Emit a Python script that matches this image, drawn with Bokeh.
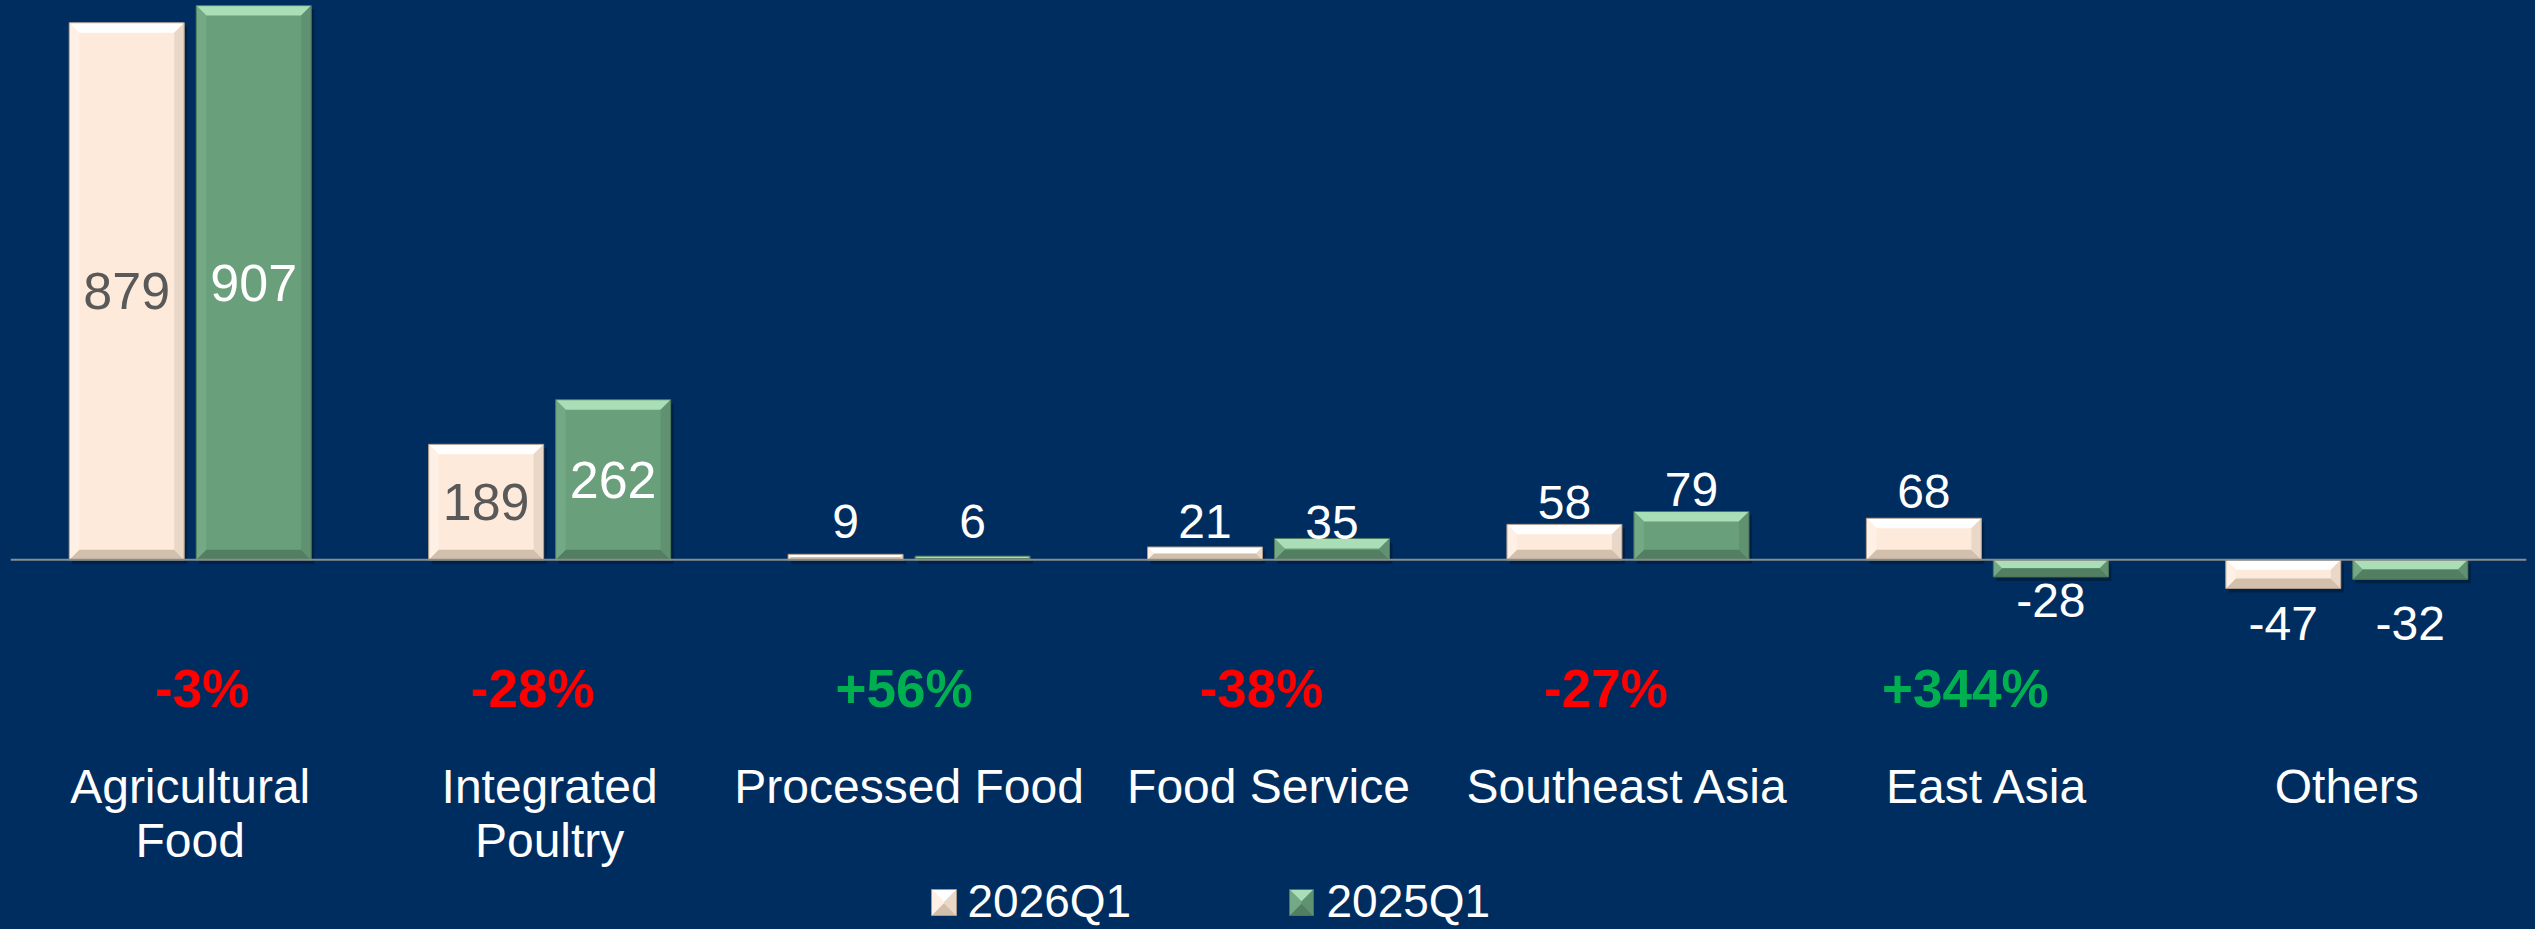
from bokeh.plotting import figure
from bokeh.models import Range1d, Span
from bokeh.core.properties import value
from bokeh.embed import file_html
from bokeh.resources import INLINE
from bokeh.core.templates import get_env

# ---------------- data ----------------
categories = ["Agricultural\nFood", "Integrated\nPoultry", "Processed Food",
              "Food Service", "Southeast Asia", "East Asia", "Others"]
q2026 = [879, 189, 9, 21, 58, 68, -47]
q2025 = [907, 262, 6, 35, 79, -28, -32]
changes = ["-3%", "-28%", "+56%", "-38%", "-27%", "+344%", ""]
series_names = ["2026Q1", "2025Q1"]

# ---------------- layout / style ----------------
BG = "#002D5F"
FONT = "Liberation Sans"
FIG_W, FIG_H = 2535, 929
ML, MR = 10, 9
FRAME_W = FIG_W - ML - MR
N = len(categories)
PX_X = FRAME_W / N            # pixels per category
AXIS_PY = 559.3               # page-y of zero line
S = 0.611                     # pixels per value unit
Y_END = AXIS_PY / S
Y_START = -(FIG_H - AXIS_PY) / S


def fy(page_y):
    return (AXIS_PY - page_y) / S


def fx(page_x):
    return (page_x - ML) / PX_X


BAR_W = 115 / PX_X
BAR_OFF = 63.5 / PX_X

STYLES = {
    "2026Q1": dict(base="#FDEADA", top="#FFFFFF", left="#FEF0E4", right="#E9D7C7",
                   bottom="#D2BFAC", outline="#A8998A", inside="#595959"),
    "2025Q1": dict(base="#6A9F7C", top="#A9DEB6", left="#74A986", right="#609272",
                   bottom="#527F62", outline="#4C7559", inside="#FFFFFF"),
}

# label pixel nudges (layout tweaks, +down)
label_nudge = {(3, 1): 6, (5, 0): -5, (6, 0): 11, (6, 1): 20}
pct_dx = [12, -17, -5, -7, -22, -22, 0]

p = figure(width=FIG_W, height=FIG_H, output_backend="svg", toolbar_location=None,
           x_range=Range1d(0, N), y_range=Range1d(Y_START, Y_END),
           x_axis_location=None, y_axis_location=None,
           min_border_left=ML, min_border_right=MR, min_border_top=0, min_border_bottom=0)
p.background_fill_color = BG
p.border_fill_color = BG
p.outline_line_color = None
p.xgrid.visible = False
p.ygrid.visible = False


def bevel_rect(L, R, T, B, st, b_px=10, shadow=True):
    """Draw a bevelled box between data coords L..R (x) and B..T (y)."""
    w_px = (R - L) * PX_X
    h_px = (T - B) * S
    b = max(min(b_px, h_px / 2, w_px / 2), 0)
    bx, by = b / PX_X, b / S
    if shadow:
        sx, sy = 3 / PX_X, 4 / S
        p.quad(left=[L + sx], right=[R + sx], top=[T - sy], bottom=[B - sy],
               fill_color="#000814", fill_alpha=0.35, line_color=None)
    p.quad(left=[L], right=[R], top=[T], bottom=[B], fill_color=st["base"],
           line_color=None)
    xs = [[L, R, R - bx, L + bx], [L, R, R - bx, L + bx],
          [L, L + bx, L + bx, L], [R, R - bx, R - bx, R]]
    ys = [[T, T, T - by, T - by], [B, B, B + by, B + by],
          [T, T - by, B + by, B], [T, T - by, B + by, B]]
    cols = [st["top"], st["bottom"], st["left"], st["right"]]
    p.patches(xs=xs, ys=ys, fill_color=cols, line_color=None)
    p.quad(left=[L], right=[R], top=[T], bottom=[B], fill_color=None,
           line_color=st["outline"], line_width=1)


in_x, in_y, in_t, in_c = [], [], [], []
out_x, out_y, out_t = [], [], []
for si, (name, vals) in enumerate(zip(series_names, [q2026, q2025])):
    st = STYLES[name]
    off = -BAR_OFF if si == 0 else BAR_OFF
    for i, v in enumerate(vals):
        xc = i + 0.5 + off
        bevel_rect(xc - BAR_W / 2, xc + BAR_W / 2, max(v, 0), min(v, 0), st)
        nudge = label_nudge.get((i, si), 0) / S
        if abs(v) > 100:
            in_x.append(xc)
            in_y.append(v / 2)
            in_t.append(str(v))
            in_c.append(st["inside"])
            continue
        if v >= 0:
            y = max(v + 6 / S, 22 / S) + 16 / S     # ink centre above bar
        else:
            y = v - 24 / S                          # ink centre below bar
        out_x.append(xc)
        out_y.append(y - nudge)
        out_t.append(str(v))

p.add_layout(Span(location=0, dimension="width", line_color="#8C8C8C", line_width=2))

p.text(x=in_x, y=in_y, text=in_t, text_color=in_c,
       text_font=value(FONT), text_font_size="52px",
       text_align="center", text_baseline="middle")
p.text(x=out_x, y=out_y, text=out_t, text_color="#FFFFFF",
       text_font=value(FONT), text_font_size="48px",
       text_align="center", text_baseline="middle")

# percentage changes
pct_x = [i + 0.5 + pct_dx[i] / PX_X for i in range(N)]
pct_col = ["#00B050" if c.startswith("+") else "#FF0000" for c in changes]
p.text(x=pct_x, y=[fy(688)] * N, text=changes, text_color=pct_col,
       text_font=value(FONT), text_font_size="53px", text_font_style="bold",
       text_align="center", text_baseline="middle")

# category labels (one glyph row per line)
cx, cy, ct = [], [], []
for i, c in enumerate(categories):
    for k, line in enumerate(c.split("\n")):
        cx.append(i + 0.5)
        cy.append(fy(785.5 + 54 * k))
        ct.append(line)
p.text(x=cx, y=cy, text=ct, text_color="#FFFFFF", text_font=value(FONT),
       text_font_size="48px", text_align="center", text_baseline="middle")

# legend (kept just inside the bottom edge)
leg_sq = [(931, 956), (1289, 1313)]
leg_tx = [967, 1326]
for (l, r), tx, name in zip(leg_sq, leg_tx, series_names):
    bevel_rect(fx(l), fx(r), fy(889), fy(915), STYLES[name], b_px=13, shadow=False)
p.text(x=[fx(t) for t in leg_tx], y=[fy(900)] * 2, text=series_names,
       text_color="#FFFFFF", text_font=value(FONT), text_font_size="46px",
       text_align="left", text_baseline="middle")

tmpl = get_env().from_string(
    '{% extends "file.html" %}{% block preamble %}'
    '<style>html, body { background: #002D5F; }</style>{% endblock %}')

open("out.html", "w").write(file_html(p, INLINE, template=tmpl))
